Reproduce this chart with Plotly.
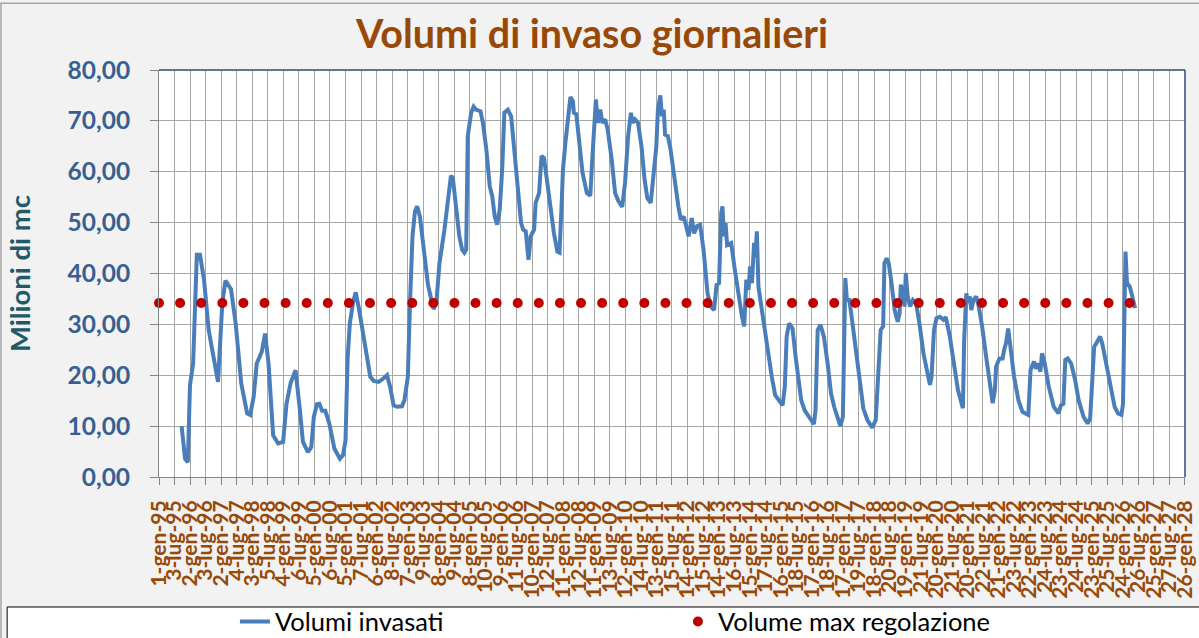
import pandas as pd
import plotly.graph_objects as go

TITLE = "Volumi di invaso giornalieri"
Y_TITLE = "Milioni di mc"
NAME_VOL = "Volumi invasati"
NAME_MAX = "Volume max regolazione"

MESI = ["gen", "feb", "mar", "apr", "mag", "giu", "lug", "ago", "set", "ott", "nov", "dic"]

# Volumi invasati: position in decimal years and volume (Milioni di mc)
vol_years = [
    1995.73, 1995.84, 1995.93, 1996.00, 1996.10, 1996.22, 1996.32, 1996.45, 1996.60, 1996.77, 1996.90,
    1997.04, 1997.14, 1997.32, 1997.47, 1997.65, 1997.84, 1997.94,
    1998.05, 1998.15, 1998.31, 1998.42, 1998.53, 1998.68, 1998.84,
    1999.00, 1999.11, 1999.24, 1999.40, 1999.53, 1999.64, 1999.80, 1999.91, 1999.99,
    2000.09, 2000.17, 2000.26, 2000.36, 2000.49, 2000.65, 2000.83, 2000.93,
    2001.01, 2001.08, 2001.15, 2001.25, 2001.34, 2001.44, 2001.63, 2001.81, 2001.92,
    2002.08, 2002.24, 2002.35, 2002.45, 2002.56, 2002.67, 2002.83, 2002.91,
    2003.02, 2003.09, 2003.17, 2003.25, 2003.32, 2003.41, 2003.55, 2003.67, 2003.78, 2003.85, 2003.94,
    2004.04, 2004.20, 2004.31, 2004.41, 2004.47, 2004.57, 2004.68, 2004.77, 2004.84, 2004.90, 2004.95,
    2005.06, 2005.14, 2005.22, 2005.36, 2005.44, 2005.55, 2005.66, 2005.74, 2005.82, 2005.90, 2005.98,
    2006.06, 2006.13, 2006.24, 2006.35, 2006.45, 2006.56, 2006.67, 2006.74, 2006.82, 2006.91, 2006.98,
    2007.09, 2007.14, 2007.25, 2007.33, 2007.41, 2007.50, 2007.59, 2007.73, 2007.84, 2007.91, 2007.98,
    2008.02, 2008.10, 2008.18, 2008.26, 2008.34, 2008.37, 2008.45, 2008.55, 2008.65, 2008.79, 2008.90, 2008.97,
    2009.08, 2009.14, 2009.22, 2009.29, 2009.38, 2009.46, 2009.59, 2009.70, 2009.81, 2009.93,
    2010.02, 2010.12, 2010.21, 2010.26, 2010.34, 2010.44, 2010.55, 2010.65, 2010.74, 2010.85, 2010.92,
    2011.03, 2011.08, 2011.16, 2011.21, 2011.27, 2011.31, 2011.40, 2011.48, 2011.61, 2011.74, 2011.82, 2011.91, 2011.98,
    2012.07, 2012.17, 2012.25, 2012.34, 2012.44, 2012.55, 2012.68, 2012.78, 2012.89, 2012.97,
    2013.05, 2013.12, 2013.16, 2013.21, 2013.26, 2013.31, 2013.44, 2013.56, 2013.68, 2013.79, 2013.86, 2013.93,
    2014.00, 2014.05, 2014.11, 2014.18, 2014.22, 2014.27, 2014.32, 2014.43, 2014.54, 2014.64, 2014.75, 2014.86, 2014.99,
    2015.10, 2015.17, 2015.23, 2015.31, 2015.42, 2015.52, 2015.70, 2015.81, 2015.97,
    2016.11, 2016.16, 2016.23, 2016.32, 2016.43, 2016.55, 2016.66, 2016.76, 2016.88, 2016.96,
    2017.04, 2017.09, 2017.12, 2017.17, 2017.25, 2017.35, 2017.49, 2017.62, 2017.70, 2017.83, 2017.99,
    2018.10, 2018.17, 2018.26, 2018.34, 2018.38, 2018.45, 2018.52, 2018.61, 2018.71, 2018.81, 2018.87, 2018.91, 2018.98,
    2019.03, 2019.07, 2019.13, 2019.21, 2019.30, 2019.40, 2019.51, 2019.64, 2019.75, 2019.85, 2019.90, 2019.98,
    2020.06, 2020.17, 2020.28, 2020.36, 2020.49, 2020.62, 2020.75, 2020.91, 2020.95,
    2021.02, 2021.07, 2021.13, 2021.18, 2021.25, 2021.34, 2021.42, 2021.53, 2021.66, 2021.76, 2021.87, 2021.94, 2021.98,
    2022.09, 2022.19, 2022.24, 2022.30, 2022.37, 2022.44, 2022.56, 2022.70, 2022.83,
    2023.02, 2023.09, 2023.20, 2023.27, 2023.34, 2023.41, 2023.46, 2023.55, 2023.68, 2023.84, 2023.99,
    2024.07, 2024.15, 2024.21, 2024.29, 2024.40, 2024.53, 2024.64, 2024.80, 2024.93,
    2025.01, 2025.08, 2025.14, 2025.22, 2025.33, 2025.40, 2025.54, 2025.68, 2025.80, 2025.91,
    2026.02, 2026.07, 2026.12, 2026.15, 2026.20, 2026.29, 2026.37, 2026.46,
]
vol_values = [
    10.0, 3.6, 2.9, 18.1, 22.3, 43.7, 43.7, 38.8, 28.9, 23.6, 18.7,
    34.2, 38.6, 36.9, 30.2, 18.4, 12.5, 12.2,
    15.8, 22.3, 24.6, 28.2, 22.3, 8.2, 6.6,
    6.9, 14.4, 18.4, 21.0, 13.8, 6.9, 4.9, 5.9, 11.8,
    14.3, 14.4, 13.0, 13.0, 10.5, 5.6, 3.6, 4.3,
    7.2, 23.6, 30.2, 34.2, 36.3, 33.2, 25.6, 19.7, 18.9,
    18.7, 19.4, 20.0, 17.7, 14.1, 13.8, 13.9, 15.1,
    19.7, 34.2, 47.3, 52.2, 53.2, 51.2, 44.3, 37.8, 34.8, 33.0, 34.2,
    42.0, 48.6, 54.5, 59.2, 58.8, 52.5, 47.3, 44.7, 44.1, 44.7, 67.0,
    71.6, 72.8, 72.2, 71.9, 69.6, 64.4, 57.1, 55.2, 51.2, 49.6, 52.5,
    60.4, 71.6, 72.2, 70.9, 64.4, 55.8, 49.9, 48.6, 48.3, 42.7, 47.3,
    48.6, 53.9, 55.8, 63.1, 62.7, 58.5, 53.2, 47.9, 44.3, 44.1, 53.9,
    60.4, 65.7, 69.6, 74.7, 73.9, 71.6, 71.3, 66.3, 59.8, 55.8, 55.3, 63.1,
    74.2, 69.6, 72.2, 69.6, 70.3, 68.3, 62.4, 55.8, 54.2, 53.1,
    57.8, 67.0, 71.6, 69.6, 70.3, 69.6, 65.0, 58.5, 54.8, 53.9, 59.1,
    65.0, 72.2, 75.0, 70.9, 72.2, 67.3, 67.0, 64.7, 58.5, 53.2, 50.6, 51.2, 49.6,
    47.3, 50.9, 47.9, 49.3, 49.6, 44.7, 36.1, 33.5, 32.8, 37.8,
    38.1, 51.9, 53.2, 47.3, 49.9, 45.6, 46.0, 40.7, 35.5, 31.5, 29.6, 38.8,
    36.8, 41.4, 38.1, 46.0, 43.3, 48.3, 37.4, 32.8, 28.2, 23.0, 19.7, 16.1, 15.1,
    14.1, 17.7, 27.6, 30.2, 29.2, 23.6, 15.1, 13.1, 11.5,
    10.4, 13.1, 28.9, 29.9, 27.6, 22.3, 16.4, 13.8, 11.5, 10.0,
    11.8, 38.1, 39.1, 34.8, 34.8, 30.2, 23.0, 17.1, 13.5, 11.2, 9.7,
    11.2, 19.0, 28.9, 29.6, 42.0, 43.0, 42.0, 38.1, 32.8, 30.5, 32.2, 37.8, 36.1,
    33.5, 40.1, 35.5, 33.5, 34.8, 34.2, 30.2, 24.3, 21.0, 18.1, 19.7, 28.9,
    31.2, 31.5, 30.9, 31.4, 27.6, 22.3, 17.1, 13.5, 26.9,
    36.1, 34.2, 35.5, 32.8, 34.8, 35.5, 33.5, 29.6, 23.6, 19.0, 14.5, 17.1, 21.7,
    23.3, 23.3, 25.0, 26.3, 29.2, 25.6, 19.7, 15.1, 12.8,
    12.2, 21.0, 22.7, 21.3, 22.3, 20.7, 24.3, 22.3, 17.7, 13.8, 12.5,
    14.1, 14.4, 23.0, 23.3, 22.3, 19.0, 15.1, 11.8, 10.5,
    11.5, 21.0, 25.6, 26.4, 27.6, 26.3, 21.7, 17.1, 13.8, 12.5,
    12.2, 14.4, 43.3, 44.3, 38.1, 37.4, 35.5, 33.2,
]

# Volume max regolazione (constant), drawn as a dotted line
max_reg_value = 34.2
max_reg_start = "1995-01-01"
max_reg_end = "2026-04-15"
max_reg_dots = 47

# Category axis: first label date, label step in days, number of labels
axis_start = "1995-01-01"
axis_step_days = 183
axis_labels_count = 67


def year_to_date(y):
    yi = int(y)
    start = pd.Timestamp(year=yi, month=1, day=1)
    span = (pd.Timestamp(year=yi + 1, month=1, day=1) - start).days
    return start + pd.Timedelta(days=(y - yi) * span)


vol_dates = [year_to_date(y) for y in vol_years]

mr_start = pd.Timestamp(max_reg_start)
mr_end = pd.Timestamp(max_reg_end)
mr_step = (mr_end - mr_start) / (max_reg_dots - 1)
max_reg_dates = [mr_start + i * mr_step for i in range(max_reg_dots)]
max_reg_values = [max_reg_value] * max_reg_dots

a0 = pd.Timestamp(axis_start)
tick_dates = [a0 + pd.Timedelta(days=axis_step_days * i) for i in range(axis_labels_count)]
tick_text = [f"{d.day}-{MESI[d.month - 1]}-{d.year % 100:02d}" for d in tick_dates]

FONT = "Lato"
BROWN = "#984807"

fig = go.Figure()
fig.add_trace(go.Scatter(
    x=vol_dates, y=vol_values, name=NAME_VOL, mode="lines",
    line=dict(color="#4A7EBB", width=4),
))
fig.add_trace(go.Scatter(
    x=max_reg_dates, y=max_reg_values, name=NAME_MAX, mode="markers",
    marker=dict(color="#C00000", size=10), cliponaxis=False,
))

fig.update_layout(
    width=1199, height=638,
    margin=dict(l=159, r=14, t=70, b=161, autoexpand=False),
    paper_bgcolor="#F2F2F2", plot_bgcolor="#FFFFFF",
    separators=",.",
    title=dict(text=TITLE, x=592 / 1199, xref="container", xanchor="center",
               y=1 - 34.5 / 638, yref="container", yanchor="middle",
               font=dict(family=FONT, size=39.5, color=BROWN, weight=700)),
    showlegend=True,
    legend=dict(orientation="h", x=0.074, xanchor="left", y=-0.356, yanchor="middle",
                bgcolor="rgba(0,0,0,0)", font=dict(family=FONT, size=25.5, color="#000000"),
                entrywidthmode="pixels", entrywidth=398),
    xaxis=dict(
        type="date", range=[tick_dates[0], tick_dates[-1] + pd.Timedelta(hours=12)],
        tickmode="array", tickvals=tick_dates, ticktext=tick_text, tickangle=-90,
        tickfont=dict(family=FONT, size=21, color=BROWN, weight=700),
        showgrid=True, gridcolor="#A6A6A6", gridwidth=1,
        showline=True, linecolor="#868686", linewidth=1,
        ticks="outside", ticklen=7, tickcolor="#868686",
        ticklabelstandoff=7, ticklabeloverflow="allow", zeroline=False,
    ),
    yaxis=dict(
        range=[0, 80], dtick=10, tick0=0, tickformat=".2f",
        tickfont=dict(family=FONT, size=24.5, color="#376092", weight=700),
        showgrid=True, gridcolor="#A6A6A6", gridwidth=1,
        showline=True, linecolor="#868686", linewidth=1,
        ticks="outside", ticklen=8, tickcolor="#868686",
        ticklabelstandoff=15, zeroline=False,
        title=dict(text=Y_TITLE, font=dict(family=FONT, size=27.5, color="#215968", weight=700), standoff=28),
    ),
    shapes=[
        dict(type="line", xref="paper", yref="paper", x0=0, x1=1, y0=1, y1=1,
             line=dict(color="#2E4D7B", width=1.5)),
        dict(type="line", xref="paper", yref="paper", x0=1, x1=1, y0=0, y1=1,
             line=dict(color="#2E4D7B", width=1.5)),
        dict(type="rect", xref="paper", yref="paper", x0=-0.154, x1=1.2, y0=-0.5, y1=1.164,
             line=dict(color="#A6A6A6", width=1.5), fillcolor="rgba(0,0,0,0)", layer="below"),
        dict(type="rect", xref="paper", yref="paper", x0=-0.148, x1=1.2, y0=-0.4, y1=-0.3194,
             line=dict(color="#000000", width=1), fillcolor="#FFFFFF", layer="below"),
    ],
)

fig.write_html("out.html", config={"displayModeBar": False},
               post_script="document.body.style.margin='0';")
